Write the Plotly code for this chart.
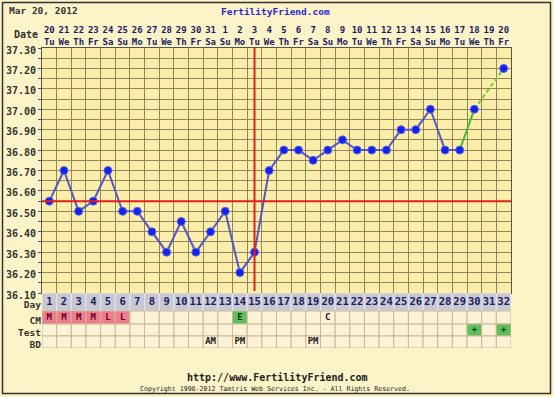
import plotly.graph_objects as go

# ---------------- data ----------------
DAYS = list(range(1, 33))
DATES = [str(d) for d in range(20, 32)] + [str(d) for d in range(1, 21)]
WEEKDAYS = (["Tu", "We", "Th", "Fr", "Sa", "Su", "Mo"] * 5)[:32]
TEMPS = [36.55, 36.70, 36.50, 36.55, 36.70, 36.50, 36.50, 36.40, 36.30, 36.45,
         36.30, 36.40, 36.50, 36.20, 36.30, 36.70, 36.80, 36.80, 36.75, 36.80,
         36.85, 36.80, 36.80, 36.80, 36.90, 36.90, 37.00, 36.80, 36.80, 37.00,
         None, 37.20]
LAST_CONFIRMED_DAY = 29          # blue line ends here, green after
COVERLINE = 36.55
OVULATION_DAY = 15
TEMP_TICKS = [36.10, 36.15, 36.20, 36.25, 36.30, 36.35, 36.40, 36.45, 36.50, 36.55,
              36.60, 36.65, 36.70, 36.75, 36.80, 36.85, 36.90, 36.95, 37.00, 37.05,
              37.10, 37.15, 37.20, 37.25, 37.30]
TEMP_LABELS = ["36.10", "", "36.20", "", "36.30", "", "36.40", "", "36.50", "",
               "36.60", "", "36.70", "", "36.80", "", "36.90", "", "37.00", "",
               "37.10", "", "37.20", "", "37.30"]
CM_DAYS = [1, 2, 3, 4, 5, 6, 14, 20]
CM_CODES = ["M", "M", "M", "M", "L", "L", "E", "C"]
TEST_DAYS = [30, 32]
TEST_CODES = ["+", "+"]
BD_DAYS = [12, 14, 19]
BD_CODES = ["AM", "PM", "PM"]
ROW_NAMES = ["Day", "CM", "Test", "BD"]

# ---------------- style ----------------
W, H = 554, 397
FONT = "DejaVu Sans Mono"
BG = "#fcf3c8"
PLOT_BG = "#fbeeab"
GRID = "#94855a"
CELL_BG = "#fdf1d8"
CELL_LINE = "#c9b98f"
DAY_BG = "#c8c8d2"
PINK = "#ee7d90"
GREEN = "#5cbf5c"
ROW_EDGES = [0, 18, 31, 43, 55]   # table row boundaries (pixels)

def px_x(p):
    return p / W

def px_y(p):
    return (H - p) / H

X_DOM = [px_x(42), px_x(511)]
TEMP_DOM = [px_y(293), px_y(48)]
TABLE_DOM = [px_y(348), px_y(293)]
XR = [0.5, 32.5]

fig = go.Figure()

# temperature line (blue part)
main_x = [d for d in DAYS if d <= LAST_CONFIRMED_DAY]
main_y = [TEMPS[d - 1] for d in main_x]
fig.add_trace(go.Scatter(x=main_x, y=main_y, mode="lines", xaxis="x", yaxis="y",
                         line=dict(color="#5656c6", width=2), hoverinfo="skip"))
# green solid to next day
fig.add_trace(go.Scatter(x=[LAST_CONFIRMED_DAY, LAST_CONFIRMED_DAY + 1],
                         y=[TEMPS[LAST_CONFIRMED_DAY - 1], TEMPS[LAST_CONFIRMED_DAY]],
                         mode="lines", xaxis="x", yaxis="y",
                         line=dict(color="#44bb33", width=2), hoverinfo="skip"))
# green dashed across missing day
tail = [d for d in DAYS if d > LAST_CONFIRMED_DAY and TEMPS[d - 1] is not None]
fig.add_trace(go.Scatter(x=tail, y=[TEMPS[d - 1] for d in tail], mode="lines",
                         xaxis="x", yaxis="y",
                         line=dict(color="#66cc44", width=2, dash="4px,3px"), hoverinfo="skip"))
# markers
mx = [d for d in DAYS if TEMPS[d - 1] is not None]
fig.add_trace(go.Scatter(x=mx, y=[TEMPS[d - 1] for d in mx], mode="markers",
                         xaxis="x", yaxis="y",
                         marker=dict(color="#1522e8", size=8,
                                     line=dict(color="#5a66f0", width=1)),
                         hoverinfo="skip"))
# invisible trace so the top date axis is drawn
fig.add_trace(go.Scatter(x=DAYS, y=[None] * len(DAYS), mode="markers", xaxis="x3",
                         yaxis="y", marker=dict(opacity=0), hoverinfo="skip"))

# ---------------- table ----------------
row_center = [(ROW_EDGES[i] + ROW_EDGES[i + 1]) / 2 for i in range(4)]
shapes = []
cm_map = dict(zip(CM_DAYS, CM_CODES))
test_map = dict(zip(TEST_DAYS, TEST_CODES))
for d in DAYS:
    for r in range(4):
        if r == 0:
            fill, lc = DAY_BG, "#e4e4ea"
        elif r == 1 and d in cm_map:
            fill = GREEN if cm_map[d] == "E" else (PINK if cm_map[d] in ("M", "L") else CELL_BG)
            lc = CELL_LINE
        elif r == 2 and d in test_map:
            fill, lc = GREEN, CELL_LINE
        else:
            fill, lc = CELL_BG, CELL_LINE
        shapes.append(dict(type="rect", xref="x2", yref="y3", layer="below",
                           x0=d - 0.5, x1=d + 0.5, y0=ROW_EDGES[r], y1=ROW_EDGES[r + 1],
                           fillcolor=fill, line=dict(color=lc, width=1)))

tx, ty, tt, tc = [], [], [], []
for d in DAYS:
    tx.append(d); ty.append(row_center[0]); tt.append(str(d)); tc.append("#1c1c60")
for d, c in zip(CM_DAYS, CM_CODES):
    tx.append(d); ty.append(row_center[1]); tt.append(c)
    tc.append("#103a10" if c == "E" else ("#700020" if c in ("M", "L") else "#222"))
for d, c in zip(TEST_DAYS, TEST_CODES):
    tx.append(d); ty.append(row_center[2]); tt.append(c); tc.append("#0b400b")
for d, c in zip(BD_DAYS, BD_CODES):
    tx.append(d); ty.append(row_center[3]); tt.append(c); tc.append("#222")
sizes = [10.5] * 32 + [9] * (len(tt) - 32)
fig.add_trace(go.Scatter(x=tx, y=ty, text=tt, mode="text", xaxis="x2", yaxis="y3",
                         textfont=dict(family=FONT, size=sizes, color=tc, weight="bold"),
                         hoverinfo="skip"))

# coverline & ovulation line
shapes.append(dict(type="line", xref="x", yref="y", x0=XR[0], x1=XR[1],
                   y0=COVERLINE, y1=COVERLINE, line=dict(color="#e02020", width=2)))
shapes.append(dict(type="line", xref="x", yref="y", x0=OVULATION_DAY, x1=OVULATION_DAY,
                   y0=37.30, y1=36.11, line=dict(color="#e02020", width=2)))
# outer frame
shapes.append(dict(type="rect", xref="paper", yref="paper", x0=px_x(2.5), x1=px_x(550.5),
                   y0=px_y(393.5), y1=px_y(2.5), line=dict(color="#333333", width=1.5)))

tick_font = dict(family=FONT, size=10, color="#333333", weight="bold")
row_font = dict(family=FONT, size=9.5, color="#333333", weight="bold")
common = dict(automargin=False, zeroline=False, fixedrange=True)
layout = dict(
    width=W, height=H, margin=dict(l=0, r=0, t=0, b=0, pad=0, autoexpand=False),
    paper_bgcolor=BG, plot_bgcolor=PLOT_BG, showlegend=False,
    xaxis=dict(domain=X_DOM, range=XR, anchor="y", tickvals=[d - 0.5 for d in DAYS] + [32.5],
               showticklabels=False, ticks="", showgrid=True, gridcolor=GRID, gridwidth=1,
               showline=True, linecolor="#555", mirror=True, **common),
    xaxis3=dict(overlaying="x", side="top", anchor="y", range=XR, tickvals=DAYS,
                ticktext=[f"{a}<br>{b}" for a, b in zip(DATES, WEEKDAYS)],
                tickfont=dict(family=FONT, size=9, color="#1c1c60", weight="bold"),
                showticklabels=True, showgrid=False, ticks="", showline=False, **common),
    yaxis=dict(domain=TEMP_DOM, range=[36.10, 37.30], anchor="x", tickvals=TEMP_TICKS,
               ticktext=TEMP_LABELS, tickfont=tick_font, ticks="outside", ticklen=3,
               tickcolor="#555", showgrid=True, gridcolor=GRID, gridwidth=1,
               showline=True, linecolor="#555", mirror=True, ticklabelshift=2, **common),
    yaxis2=dict(overlaying="y", side="right", anchor="x", range=[36.10, 37.30],
                tickvals=TEMP_TICKS, ticktext=TEMP_LABELS, tickfont=tick_font,
                ticks="outside", ticklen=3, tickcolor="#555", showgrid=False,
                ticklabelshift=2, **common),
    xaxis2=dict(domain=X_DOM, range=XR, anchor="y3", showticklabels=False, ticks="",
                showgrid=False, showline=False, **common),
    yaxis3=dict(domain=TABLE_DOM, range=[ROW_EDGES[-1], 0], anchor="x2",
                tickvals=row_center, ticktext=ROW_NAMES, tickfont=row_font, ticks="",
                showgrid=False, showline=False, ticklabelshift=-3, **common),
    yaxis4=dict(overlaying="y3", side="right", anchor="x2", range=[ROW_EDGES[-1], 0],
                tickvals=row_center, ticktext=ROW_NAMES, tickfont=row_font, ticks="",
                showgrid=False, showline=False, ticklabelshift=-3, **common),
    shapes=shapes,
    annotations=[
        dict(text="Mar 20, 2012", xref="paper", yref="paper", x=px_x(7), y=px_y(11),
             xanchor="left", yanchor="middle", showarrow=False,
             font=dict(family=FONT, size=9.5, color="#333", weight="bold")),
        dict(text="FertilityFriend.com", xref="paper", yref="paper", x=px_x(275), y=px_y(12),
             xanchor="center", yanchor="middle", showarrow=False,
             font=dict(family=FONT, size=9.5, color="#2a2ad0", weight="bold")),
        dict(text="Date", xref="paper", yref="paper", x=px_x(40), y=px_y(35),
             xanchor="right", yanchor="middle", showarrow=False,
             font=dict(family=FONT, size=10, color="#333", weight="bold")),
        dict(text="http://www.FertilityFriend.com", xref="paper", yref="paper",
             x=px_x(277), y=px_y(377), xanchor="center", yanchor="middle", showarrow=False,
             font=dict(family=FONT, size=10, color="#222", weight="bold")),
        dict(text="Copyright 1998-2012 Tamtris Web Services Inc. - All Rights Reserved.",
             xref="paper", yref="paper", x=px_x(275), y=px_y(389), xanchor="center",
             yanchor="middle", showarrow=False,
             font=dict(family=FONT, size=6.6, color="#222")),
    ],
)
fig.update_layout(**layout)
fig.write_html("out.html", config={"displayModeBar": False, "staticPlot": True},
               post_script="document.body.style.margin='0px';")
